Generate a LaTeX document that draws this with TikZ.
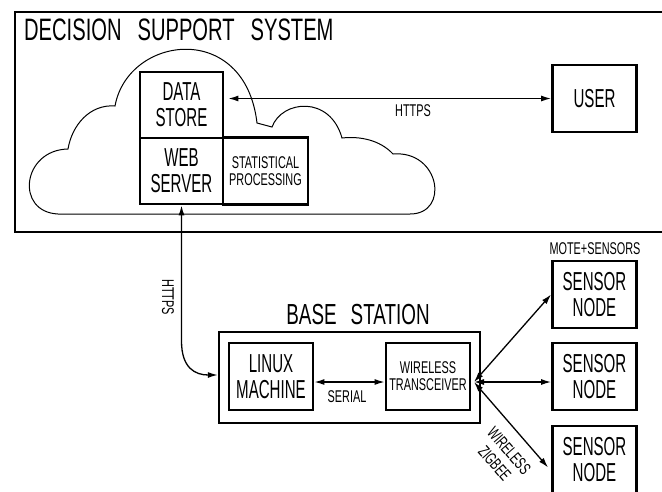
\documentclass[tikz,border=0pt]{standalone}
\usepackage{fontspec}
\setmainfont[FakeStretch=0.58]{Liberation Sans}
\newfontfamily\titlef[FakeStretch=0.65]{Liberation Sans}
\newfontfamily\smallf[FakeStretch=0.64]{Liberation Sans}
\usetikzlibrary{arrows.meta,calc}
\begin{document}
\begin{tikzpicture}[x=1pt,y=-1pt,
  box/.style={draw, line width=2.8pt, fill=white, inner sep=0pt, align=center,
    font=\fontsize{26}{26}\selectfont, minimum width=84pt, minimum height=67pt},
  smalltext/.style={font=\smallf\fontsize{17}{17}\selectfont, inner sep=0pt, align=center},
  bigtext/.style={font=\titlef\fontsize{31}{31}\selectfont, inner sep=0pt},
  conn/.style={line width=1.3pt, {Latex[length=10pt,width=6pt]}-{Latex[length=10pt,width=6pt]}}]
\useasboundingbox (0,0) rectangle (662,491);
% outer system box
\node[draw, line width=1.8pt, minimum width=660pt, minimum height=220pt, anchor=north west, inner sep=0pt] (dss) at (14,11) {};
\node[bigtext, anchor=west] (title) at (24,30) {DECISION\hspace{16pt}SUPPORT\hspace{16pt}SYSTEM};
% cloud
\draw[line width=1pt] (58,214) .. controls (15,212) and (22,150) .. (68,149)
  .. controls (72,125) and (90,104) .. (115,106)
  .. controls (128,35) and (245,20) .. (257,123) -- (272,127)
  .. controls (282,100) and (330,95) .. (342,138)
  .. controls (360,136) and (380,140) .. (393,154)
  .. controls (440,150) and (450,214) .. (410,214) -- cycle;
% boxes
\node[box, minimum width=83pt, minimum height=66pt] (datastore) at (181.5,105) {DATA\\STORE};
\node[box, minimum width=83pt, minimum height=66pt] (webserver) at (181.5,171) {WEB\\SERVER};
\node[box, smalltext, minimum width=85pt] (stat) at (265.5,171) {STATISTICAL\\PROCESSING};
\node[box] (user) at (594.5,98.5) {USER};
\node[draw, line width=2.4pt, minimum width=261pt, minimum height=91pt, inner sep=0pt] (base) at (349.5,377.5) {};
\node[bigtext, font=\titlef\fontsize{29}{29}\selectfont] (basetitle) at (358,314.5) {BASE\hspace{14pt}STATION};
\node[box] (linux) at (271,376.5) {LINUX\\MACHINE};
\node[box, smalltext] (trans) at (428,376.5) {WIRELESS\\TRANSCEIVER};
\node[box] (s1) at (594.5,294.5) {SENSOR\\NODE};
\node[box] (s2) at (594.5,376.5) {SENSOR\\NODE};
\node[box] (s3) at (594.5,459.5) {SENSOR\\NODE};
\node[smalltext] (mote) at (595,249) {MOTE+SENSORS};
% connectors
\draw[conn, shorten <=4pt] (datastore.east |- user.west) -- (user.west);
\node[smalltext] (https1) at (413,111) {HTTPS};
\draw[conn] (webserver.south) -- (181.5,341) .. controls (181.5,368) and (195,375) .. ($(base.west)+(0,-2.5)$);
\node[smalltext, rotate=-90] (https2) at (168,297) {HTTPS};
\draw[conn] ($(linux.east)+(0,5.5)$) -- ($(trans.west)+(0,5.5)$);
\node[smalltext] (serial) at (347,397) {SERIAL};
\coordinate (hub) at (474,382);
\draw[conn] (hub) -- (s1.west);
\draw[conn] (hub) -- (s2.west |- hub);
\draw[conn] (hub) -- ($(s3.west)+(-3,8)$);
\node[smalltext, rotate=-49, font=\smallf\fontsize{17}{19}\selectfont] (zig) at (502,457) {WIRELESS\\ZIGBEE};
\end{tikzpicture}
\end{document}
